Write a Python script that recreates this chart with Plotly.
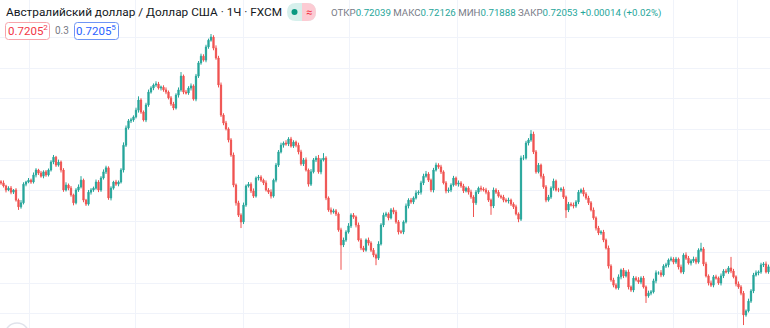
import plotly.graph_objects as go

# ---------------------------------------------------------------------------
# AUD/USD, 1H candles (FXCM)
# ---------------------------------------------------------------------------
first_open = 0.72330

close = [
    0.72326, 0.72316, 0.72303, 0.72309, 0.72296, 0.72303, 0.72270, 0.72248, 0.72261, 0.72322,
    0.72329, 0.72335, 0.72329, 0.72352, 0.72368, 0.72358, 0.72348, 0.72362, 0.72352, 0.72368,
    0.72394, 0.72410, 0.72384, 0.72394, 0.72368, 0.72303, 0.72319, 0.72309, 0.72287, 0.72261,
    0.72303, 0.72313, 0.72335, 0.72270, 0.72257, 0.72296, 0.72303, 0.72309, 0.72329, 0.72303,
    0.72342, 0.72362, 0.72375, 0.72277, 0.72309, 0.72329, 0.72322, 0.72329, 0.72368, 0.72449,
    0.72505, 0.72528, 0.72531, 0.72541, 0.72563, 0.72596, 0.72557, 0.72531, 0.72580, 0.72622,
    0.72635, 0.72645, 0.72648, 0.72635, 0.72638, 0.72629, 0.72622, 0.72603, 0.72583, 0.72570,
    0.72612, 0.72629, 0.72674, 0.72622, 0.72619, 0.72635, 0.72642, 0.72599, 0.72674, 0.72717,
    0.72739, 0.72726, 0.72769, 0.72791, 0.72801, 0.72765, 0.72733, 0.72645, 0.72547, 0.72521,
    0.72502, 0.72466, 0.72417, 0.72319, 0.72261, 0.72221, 0.72199, 0.72254, 0.72316, 0.72322,
    0.72300, 0.72283, 0.72342, 0.72345, 0.72335, 0.72326, 0.72303, 0.72296, 0.72283, 0.72335,
    0.72384, 0.72427, 0.72449, 0.72456, 0.72453, 0.72469, 0.72446, 0.72459, 0.72449, 0.72427,
    0.72388, 0.72401, 0.72368, 0.72322, 0.72362, 0.72401, 0.72407, 0.72362, 0.72401, 0.72407,
    0.72277, 0.72238, 0.72231, 0.72235, 0.72225, 0.72173, 0.72124, 0.72140, 0.72166, 0.72186,
    0.72221, 0.72215, 0.72189, 0.72140, 0.72114, 0.72107, 0.72140, 0.72130, 0.72107, 0.72091,
    0.72081, 0.72127, 0.72189, 0.72221, 0.72225, 0.72212, 0.72238, 0.72231, 0.72199, 0.72166,
    0.72166, 0.72199, 0.72251, 0.72270, 0.72264, 0.72277, 0.72293, 0.72296, 0.72326, 0.72348,
    0.72355, 0.72335, 0.72303, 0.72368, 0.72384, 0.72378, 0.72362, 0.72326, 0.72300, 0.72303,
    0.72319, 0.72342, 0.72322, 0.72326, 0.72316, 0.72300, 0.72309, 0.72296, 0.72280, 0.72261,
    0.72296, 0.72309, 0.72306, 0.72303, 0.72296, 0.72270, 0.72251, 0.72303, 0.72296, 0.72283,
    0.72280, 0.72270, 0.72267, 0.72270, 0.72257, 0.72248, 0.72225, 0.72208, 0.72407, 0.72407,
    0.72456, 0.72466, 0.72485, 0.72427, 0.72362, 0.72384, 0.72348, 0.72313, 0.72270, 0.72280,
    0.72309, 0.72332, 0.72303, 0.72303, 0.72306, 0.72280, 0.72238, 0.72257, 0.72254, 0.72251,
    0.72264, 0.72296, 0.72303, 0.72290, 0.72277, 0.72261, 0.72238, 0.72212, 0.72179, 0.72163,
    0.72166, 0.72140, 0.72114, 0.72055, 0.72010, 0.71993, 0.71984, 0.72020, 0.72042, 0.72023,
    0.72036, 0.71987, 0.71977, 0.72016, 0.72010, 0.72003, 0.72016, 0.71987, 0.71958, 0.71967,
    0.71971, 0.72007, 0.72033, 0.72033, 0.72026, 0.72055, 0.72059, 0.72075, 0.72078, 0.72068,
    0.72078, 0.72052, 0.72036, 0.72091, 0.72081, 0.72065, 0.72072, 0.72078, 0.72068, 0.72107,
    0.72111, 0.72062, 0.72023, 0.72000, 0.71993, 0.72020, 0.72016, 0.72000, 0.72023, 0.72039,
    0.72036, 0.72049, 0.72039, 0.72020, 0.71997, 0.71987, 0.71967, 0.71896, 0.71909, 0.71941,
    0.71974, 0.72026, 0.72033, 0.72036, 0.72059, 0.72062, 0.72036, 0.72053,
]

# wick lengths above / below the body, in points (0.00001)
upper_wick = [
    5, 8, 4, 6, 7, 3, 6, 5, 9, 6, 4, 7, 5, 8, 6, 4, 7, 5, 6, 5,
    6, 7, 4, 8, 5, 6, 9, 5, 7, 4, 6, 8, 13, 5, 4, 7, 6, 5, 8, 6,
    6, 8, 7, 5, 6, 4, 7, 5, 6, 9, 8, 6, 7, 5, 8, 12, 6, 5, 7, 8,
    6, 5, 9, 7, 5, 6, 8, 5, 6, 7, 6, 8, 13, 5, 7, 6, 8, 5, 7, 6,
    8, 6, 7, 5, 10, 6, 9, 7, 8, 6, 7, 5, 6, 8, 5, 7, 6, 8, 5, 7,
    6, 8, 5, 7, 6, 5, 8, 6, 9, 5, 7, 6, 8, 5, 9, 6, 7, 6, 5, 8,
    7, 6, 8, 5, 9, 6, 7, 10, 6, 16, 6, 5, 8, 7, 6, 5, 7, 8, 6, 9,
    6, 7, 5, 8, 6, 7, 5, 8, 6, 7, 5, 9, 6, 8, 7, 5, 6, 8, 7, 6,
    7, 5, 8, 6, 7, 5, 9, 6, 7, 8, 10, 6, 5, 7, 8, 6, 7, 5, 6, 8,
    6, 7, 5, 8, 6, 7, 5, 6, 8, 6, 7, 5, 8, 6, 7, 6, 5, 8, 6, 7,
    5, 7, 6, 8, 5, 6, 7, 5, 8, 10, 7, 6, 13, 8, 6, 7, 5, 8, 6, 7,
    6, 8, 5, 7, 6, 8, 5, 7, 6, 8, 6, 7, 5, 8, 6, 7, 6, 8, 5, 7,
    6, 7, 5, 8, 6, 7, 6, 8, 5, 7, 6, 8, 5, 7, 6, 9, 6, 7, 5, 8,
    6, 7, 8, 5, 9, 6, 7, 5, 8, 6, 7, 5, 8, 6, 9, 7, 6, 8, 7, 6,
    20, 6, 7, 5, 8, 6, 7, 5, 8, 6, 7, 6, 36, 7, 5, 8, 6, 7, 5, 8,
    6, 7, 8, 5, 7, 6, 8, 7,
]

lower_wick = [
    6, 5, 8, 4, 7, 6, 5, 10, 6, 5, 7, 4, 6, 5, 8, 6, 5, 7, 6, 5,
    5, 7, 6, 5, 8, 6, 5, 7, 6, 8, 5, 6, 5, 7, 6, 5, 8, 6, 5, 7,
    6, 5, 7, 6, 8, 5, 6, 7, 5, 8, 6, 5, 7, 6, 5, 8, 6, 5, 7, 6,
    5, 7, 6, 5, 8, 6, 7, 5, 6, 7, 5, 8, 6, 7, 5, 6, 8, 5, 7, 6,
    6, 5, 7, 6, 5, 7, 6, 8, 6, 7, 5, 8, 6, 7, 9, 6, 20, 7, 6, 5,
    7, 6, 5, 8, 6, 7, 5, 6, 8, 5, 7, 6, 5, 8, 6, 7, 5, 6, 7, 8,
    6, 7, 5, 8, 6, 5, 7, 6, 8, 5, 7, 6, 8, 5, 7, 6, 81, 7, 6, 5,
    7, 6, 8, 5, 7, 6, 5, 8, 6, 7, 23, 6, 5, 7, 6, 8, 5, 7, 6, 8,
    6, 7, 5, 8, 6, 7, 5, 6, 8, 7, 5, 6, 7, 8, 5, 6, 7, 5, 8, 6,
    7, 5, 6, 8, 6, 7, 5, 8, 6, 46, 7, 6, 8, 5, 7, 6, 29, 7, 6, 5,
    6, 7, 5, 8, 6, 7, 5, 10, 6, 7, 5, 8, 6, 7, 6, 5, 8, 6, 7, 5,
    6, 8, 5, 7, 6, 6, 26, 7, 5, 8, 6, 7, 5, 8, 6, 7, 5, 6, 8, 7,
    6, 7, 5, 8, 6, 7, 5, 6, 8, 7, 5, 8, 6, 7, 5, 6, 7, 5, 23, 6,
    7, 5, 8, 6, 7, 5, 6, 8, 5, 7, 6, 8, 5, 7, 6, 5, 8, 6, 7, 5,
    6, 7, 5, 8, 6, 7, 5, 6, 8, 7, 5, 6, 7, 5, 8, 6, 7, 33, 6, 5,
    6, 7, 5, 8, 6, 7, 5, 6,
]

# legend texts
title_text = "Австралийский доллар / Доллар США · 1Ч · FXCM"
ohlc_labels = ["ОТКР", "МАКС", "МИН", "ЗАКР"]
ohlc_values = ["0.72039", "0.72126", "0.71888", "0.72053"]
change_text = "+0.00014 (+0.02%)"
bid_text, bid_sub = "0.7205", "2"
spread_text = "0.3"
ask_text, ask_sub = "0.7205", "5"

# price grid levels
price_levels = [0.719, 0.720, 0.721, 0.722, 0.723, 0.724, 0.725, 0.726, 0.727, 0.728]

# ---------------------------------------------------------------------------
n = len(close)
opens = [first_open] + close[:-1]
highs = [max(o, c) + u / 1e5 for o, c, u in zip(opens, close, upper_wick)]
lows = [min(o, c) - d / 1e5 for o, c, d in zip(opens, close, lower_wick)]
idx = list(range(n))

UP = "#26a69a"
DOWN = "#ef5350"
GRID = "#f0f3fa"
W, H = 770, 328
FONT = "Roboto"

fig = go.Figure(
    go.Candlestick(
        x=idx, open=opens, high=highs, low=lows, close=close,
        increasing=dict(line=dict(color=UP, width=1), fillcolor=UP),
        decreasing=dict(line=dict(color=DOWN, width=1), fillcolor=DOWN),
        whiskerwidth=0,
        hoverinfo="skip",
    )
)

# vertical (time) grid positions in bar units
time_grid = [11.2, 53.6, 96.8, 139.2, 182.4, 225.6, 268.8, 294.4]


def px(x):
    return x / W


def py(y):
    return 1 - y / H


def rrect(x0, y0, x1, y1, r):
    """Rounded rectangle path in paper coordinates from pixel corners."""
    return (
        f"M {px(x0 + r)} {py(y0)} L {px(x1 - r)} {py(y0)} "
        f"Q {px(x1)} {py(y0)} {px(x1)} {py(y0 + r)} "
        f"L {px(x1)} {py(y1 - r)} Q {px(x1)} {py(y1)} {px(x1 - r)} {py(y1)} "
        f"L {px(x0 + r)} {py(y1)} Q {px(x0)} {py(y1)} {px(x0)} {py(y1 - r)} "
        f"L {px(x0)} {py(y0 + r)} Q {px(x0)} {py(y0)} {px(x0 + r)} {py(y0)} Z"
    )


shapes = [
    # bid / ask boxes
    dict(type="path", xref="paper", yref="paper", path=rrect(5.5, 22.5, 49.5, 39.5, 3),
         line=dict(color="#f7a5ab", width=1), fillcolor="white"),
    dict(type="path", xref="paper", yref="paper", path=rrect(74.5, 22.5, 118.5, 39.5, 3),
         line=dict(color="#6f95f5", width=1), fillcolor="white"),
    # status pills
    dict(type="path", xref="paper", yref="paper", path=rrect(287, 3, 316, 21, 9),
         line=dict(width=0), fillcolor="#d6f0ec"),
    dict(type="path", xref="paper", yref="paper",
         path=(f"M {px(302)} {py(3)} L {px(307)} {py(3)} Q {px(316)} {py(3)} {px(316)} {py(12)} "
               f"Q {px(316)} {py(21)} {px(307)} {py(21)} L {px(302)} {py(21)} Z"),
         line=dict(width=0), fillcolor="#fccbd3"),
    dict(type="circle", xref="paper", yref="paper",
         x0=px(291.5), x1=px(297.5), y0=py(15), y1=py(9),
         line=dict(width=0), fillcolor="#089981"),
    # logo edge
    dict(type="circle", xref="paper", yref="paper",
         x0=px(5), x1=px(29), y0=py(347), y1=py(323),
         line=dict(color="#e0e3eb", width=1.5), fillcolor="rgba(0,0,0,0)"),
]

GRAY = "#787b86"
ohlc_html = "".join(
    f"<span style='color:{GRAY}'>{lab}</span><span style='color:{UP}'>{val}</span> "
    for lab, val in zip(ohlc_labels, ohlc_values)
) + f"<span style='color:{UP}'>{change_text}</span>"

annotations = [
    dict(x=px(4), y=py(12), text=title_text, showarrow=False, xanchor="left", yanchor="middle",
         font=dict(family=FONT, size=11.8, color="#131722")),
    dict(x=px(309), y=py(12), text="≈", showarrow=False, xanchor="center", yanchor="middle",
         font=dict(family=FONT, size=11, color="#f23645")),
    dict(x=px(329), y=py(13), text=ohlc_html, showarrow=False, xanchor="left", yanchor="middle",
         font=dict(family=FONT, size=9.7)),
    dict(x=px(27.5), y=py(31), text=f"{bid_text}<sup>{bid_sub}</sup>", showarrow=False,
         xanchor="center", yanchor="middle",
         font=dict(family=FONT, size=11.5, color="#f23645")),
    dict(x=px(62), y=py(31), text=spread_text, showarrow=False, xanchor="center", yanchor="middle",
         font=dict(family=FONT, size=10, color=GRAY)),
    dict(x=px(96.5), y=py(31), text=f"{ask_text}<sup>{ask_sub}</sup>", showarrow=False,
         xanchor="center", yanchor="middle",
         font=dict(family=FONT, size=11.5, color="#2962ff")),
]
for a in annotations:
    a.update(xref="paper", yref="paper")

# pixel scale: 0.001 per 30.7 px, 0.7200 sits 283 px from top
y_top = 0.7200 + 283 / 30700
y_bot = 0.7200 - (H - 283) / 30700

fig.update_layout(
    width=W, height=H,
    margin=dict(l=0, r=0, t=0, b=0),
    paper_bgcolor="white", plot_bgcolor="white",
    showlegend=False, hovermode=False,
    shapes=shapes, annotations=annotations,
    xaxis=dict(range=[-0.4, n - 0.4], tickvals=time_grid, showticklabels=False,
               showgrid=True, gridcolor=GRID, gridwidth=1, zeroline=False,
               rangeslider=dict(visible=False), showline=False, ticks=""),
    yaxis=dict(range=[y_bot, y_top], tickvals=price_levels, showticklabels=False,
               showgrid=True, gridcolor=GRID, gridwidth=1, zeroline=False,
               showline=False, ticks=""),
)

fig.write_html("out.html", config={"displayModeBar": False})
